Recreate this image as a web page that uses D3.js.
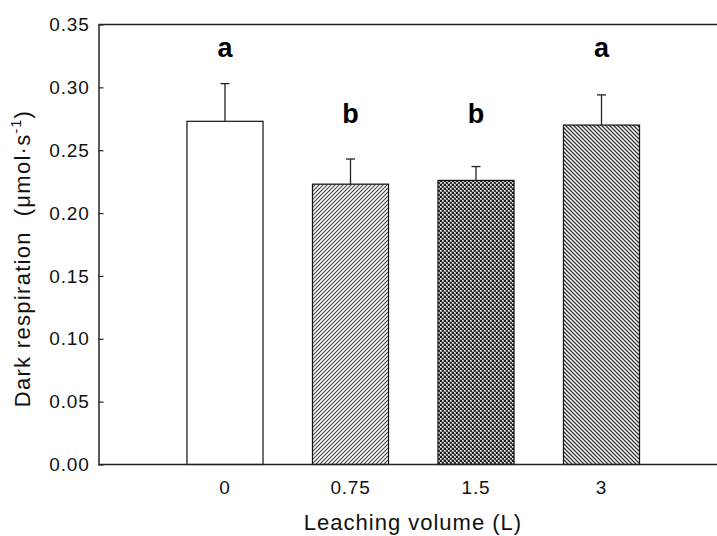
<!DOCTYPE html>
<html><head><meta charset="utf-8">
<script src="https://cdn.jsdelivr.net/npm/d3@7"></script>
<style>
body{margin:0;background:#fff;}
svg{display:block;font-family:Arial,"Liberation Sans",sans-serif;}
</style></head>
<body><svg id="c" width="717" height="536"></svg>
<script>
const categories = ["0", "0.75", "1.5", "3"];
const means = [0.273, 0.223, 0.226, 0.270];
const errors = [0.030, 0.020, 0.011, 0.024];
const letters = ["a", "b", "b", "a"];
const letterLevels = [0.324, 0.272, 0.272, 0.324];
const yTicks = [0, 0.05, 0.10, 0.15, 0.20, 0.25, 0.30, 0.35];
const fills = ["white", "url(#hatchF)", "url(#check)", "url(#hatchB)"];

(function () {
const svg = d3.select("#c");
const pL = 98.5, pT = 24.5, pB = 464.5, pR = 717;

const x = d3.scaleBand().domain(categories).range([162.25, 664.25]).paddingInner(0.394).paddingOuter(0.197);
const y = d3.scaleLinear().domain([0, 0.35]).range([pB, pT]);

const defs = svg.append("defs");
const pf = defs.append("pattern").attr("id", "hatchF").attr("patternUnits", "userSpaceOnUse")
  .attr("width", 4).attr("height", 4);
pf.append("rect").attr("width", 4).attr("height", 4).attr("fill", "#fff");
pf.append("path").attr("d", "M-1,1 l2,-2 M0,4 l4,-4 M3,5 l2,-2").attr("stroke", "#444").attr("stroke-width", 1.2);
const pb = defs.append("pattern").attr("id", "hatchB").attr("patternUnits", "userSpaceOnUse")
  .attr("width", 4).attr("height", 4);
pb.append("rect").attr("width", 4).attr("height", 4).attr("fill", "#fff");
pb.append("path").attr("d", "M-1,3 l2,2 M0,0 l4,4 M3,-1 l2,2").attr("stroke", "#333").attr("stroke-width", 1.3);
const pc = defs.append("pattern").attr("id", "check").attr("patternUnits", "userSpaceOnUse")
  .attr("width", 4).attr("height", 4);
pc.append("rect").attr("width", 4).attr("height", 4).attr("fill", "#aaa");
pc.append("rect").attr("width", 2).attr("height", 2).attr("fill", "#1a1a1a");
pc.append("rect").attr("x", 2).attr("y", 2).attr("width", 2).attr("height", 2).attr("fill", "#333");
pc.append("rect").attr("x", 2).attr("y", 0).attr("width", 1).attr("height", 1).attr("fill", "#f2f2f2");
pc.append("rect").attr("x", 0).attr("y", 2).attr("width", 1).attr("height", 1).attr("fill", "#f2f2f2");

// bars
svg.append("g").selectAll("rect").data(categories).join("rect")
  .attr("x", d => x(d)).attr("width", x.bandwidth())
  .attr("y", (d, i) => y(means[i])).attr("height", (d, i) => y(0) - y(means[i]))
  .attr("fill", (d, i) => fills[i]).attr("stroke", "#111").attr("stroke-width", 1.2);

// error bars
const eg = svg.append("g").attr("stroke", "#222").attr("stroke-width", 1.3);
categories.forEach((c, i) => {
  const cx = x(c) + x.bandwidth() / 2;
  eg.append("line").attr("x1", cx).attr("x2", cx).attr("y1", y(means[i])).attr("y2", y(means[i] + errors[i]));
  eg.append("line").attr("x1", cx - 4.5).attr("x2", cx + 4.5).attr("y1", y(means[i] + errors[i])).attr("y2", y(means[i] + errors[i]));
});

// significance letters
svg.append("g").selectAll("text").data(categories).join("text")
  .attr("x", d => x(d) + x.bandwidth() / 2).attr("y", (d, i) => y(letterLevels[i]))
  .attr("text-anchor", "middle").attr("font-weight", "bold").attr("font-size", 27).attr("fill", "#000")
  .text((d, i) => letters[i]);

// frame
const fr = svg.append("g").attr("stroke", "#222").attr("stroke-width", 1.5).attr("fill", "none");
fr.append("line").attr("x1", pL).attr("x2", pR).attr("y1", pT).attr("y2", pT);
fr.append("line").attr("x1", pL).attr("x2", pR).attr("y1", pB).attr("y2", pB);

// y axis
const ya = d3.axisLeft(y).tickValues(yTicks).tickFormat(d3.format(".2f")).tickSizeInner(-5).tickSizeOuter(0).tickPadding(9);
const yg = svg.append("g").attr("transform", `translate(${pL},0)`).call(ya);
yg.select(".domain").attr("stroke", "#222").attr("stroke-width", 1.5);
yg.selectAll(".tick line").attr("stroke", "#222").attr("stroke-width", 1.2);
yg.selectAll(".tick text").attr("font-size", 19).attr("letter-spacing", 0.8).attr("fill", "#111")
  .attr("font-family", "Arial, 'Liberation Sans', sans-serif");

// x axis labels
const xa = d3.axisBottom(x).tickSize(0).tickPadding(16);
const xg = svg.append("g").attr("transform", `translate(0,${pB})`).call(xa);
xg.select(".domain").remove();
xg.selectAll(".tick text").attr("font-size", 19).attr("letter-spacing", 0.8).attr("fill", "#111")
  .attr("font-family", "Arial, 'Liberation Sans', sans-serif");

// titles
svg.append("text").attr("x", 413).attr("y", 530).attr("text-anchor", "middle")
  .attr("font-size", 22).attr("letter-spacing", 1).attr("fill", "#111").text("Leaching volume (L)");
const yt = svg.append("text").attr("transform", `translate(30,${(pT + pB) / 2 + 14}) rotate(-90)`)
  .attr("text-anchor", "middle").attr("font-size", 22).attr("letter-spacing", 1.3).attr("fill", "#111");
yt.append("tspan").text("Dark respiration\u00a0\u00a0(\u03bcmol\u00b7s");
yt.append("tspan").attr("dy", -9).attr("font-size", 14).text("-1");
yt.append("tspan").attr("dy", 9).text(")");
})();
</script></body></html>
